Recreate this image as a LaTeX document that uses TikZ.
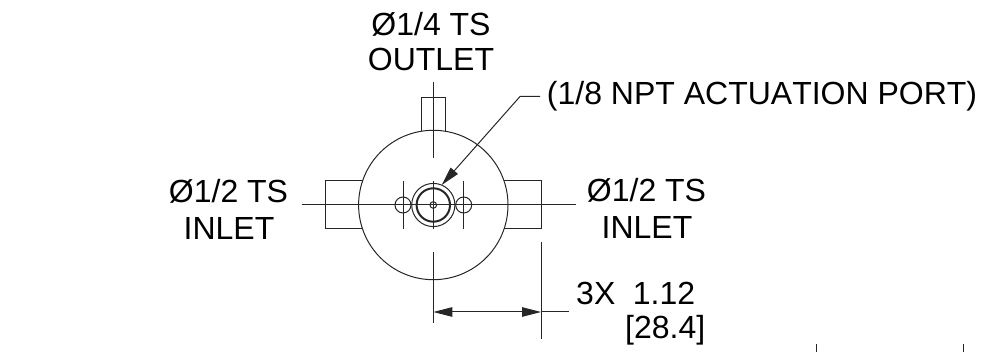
\documentclass[tikz,border=0pt]{standalone}
\usepackage{fontspec}
\setmainfont[Kerning=Off]{Liberation Sans}
\usetikzlibrary{arrows.meta}
\tikzset{
  part/.style={draw=black!85,line width=1pt},
  lbl/.style={anchor=base,inner sep=0pt,font=\fontsize{32}{36}\selectfont,text=black},
  tip/.style={-{Triangle[length=19pt,width=9.5pt]}}
}
\begin{document}
\begin{tikzpicture}[x=1pt,y=-1pt]
\useasboundingbox (0,0) rectangle (982,352);
\coordinate (c) at (433.3,205);
% body and stubs
\draw[part] (421.7,131.5) -- (421.7,97.3) -- (445.7,97.3) -- (445.7,131.5);
\draw[part] (363,181) -- (325.7,181) -- (325.7,229) -- (363,229);
\draw[part] (504,181) -- (541,181) -- (541,229) -- (504,229);
\draw[part] (c) circle[radius=74.7];
\draw[part] (c) circle[radius=21.6];
\draw[part,line width=2pt] (c) circle[radius=16.7];
\draw[part] (c) circle[radius=3.3];
\draw[part] (403,205) circle[radius=8];
\draw[part] (463.7,205) circle[radius=8];
% centre lines
\draw[part] (301.7,205) -- (576,205);
\draw[part] (433.3,82) -- (433.3,158);
\draw[part] (433.3,181) -- (433.3,229);
\draw[part] (433.3,252) -- (433.3,323);
\draw[part] (403,181) -- (403,229);
\draw[part] (463.7,181) -- (463.7,229);
% texts
\node[lbl] (t1) at (431,36) {Ø1/4 TS};
\node[lbl] (t2) at (431,71) {OUTLET};
\node[lbl] (l1) at (228.5,203) {Ø1/2 TS};
\node[lbl] (l2) at (229,239.5) {INLET};
\node[lbl] (r1) at (646.5,202) {Ø1/2 TS};
\node[lbl] (r2) at (647,238.5) {INLET};
\node[lbl,anchor=base west] (port) at (546.7,104.5) {(1/8 NPT ACTUATION PORT)};
\node[lbl,anchor=base west] (d1) at (576,304.5) {3X\hspace{0.55em}1.12};
\node[lbl,anchor=base west] (d2) at (625,338.5) {[28.4]};
% leader
\coordinate (ptip) at (441.7,185);
\coordinate (pknee) at (520,96.5);
\coordinate (pend) at (540,96.5);
\draw[part,tip] (pend) -- (pknee) -- (ptip);
% dimension
\coordinate (da) at (433.3,312);
\coordinate (db) at (541,312);
\coordinate (de) at (569,312);
\draw[part] (541,241.7) -- (541,339);
\draw[part,{Triangle[length=19pt,width=9.5pt]}-{Triangle[length=19pt,width=9.5pt]}] (da) -- (db);
\draw[part] (db) -- (de);
% ticks at the lower right
\draw[part] (816.5,344) -- (816.5,352);
\draw[part] (963,344) -- (963,352);
\end{tikzpicture}
\end{document}
